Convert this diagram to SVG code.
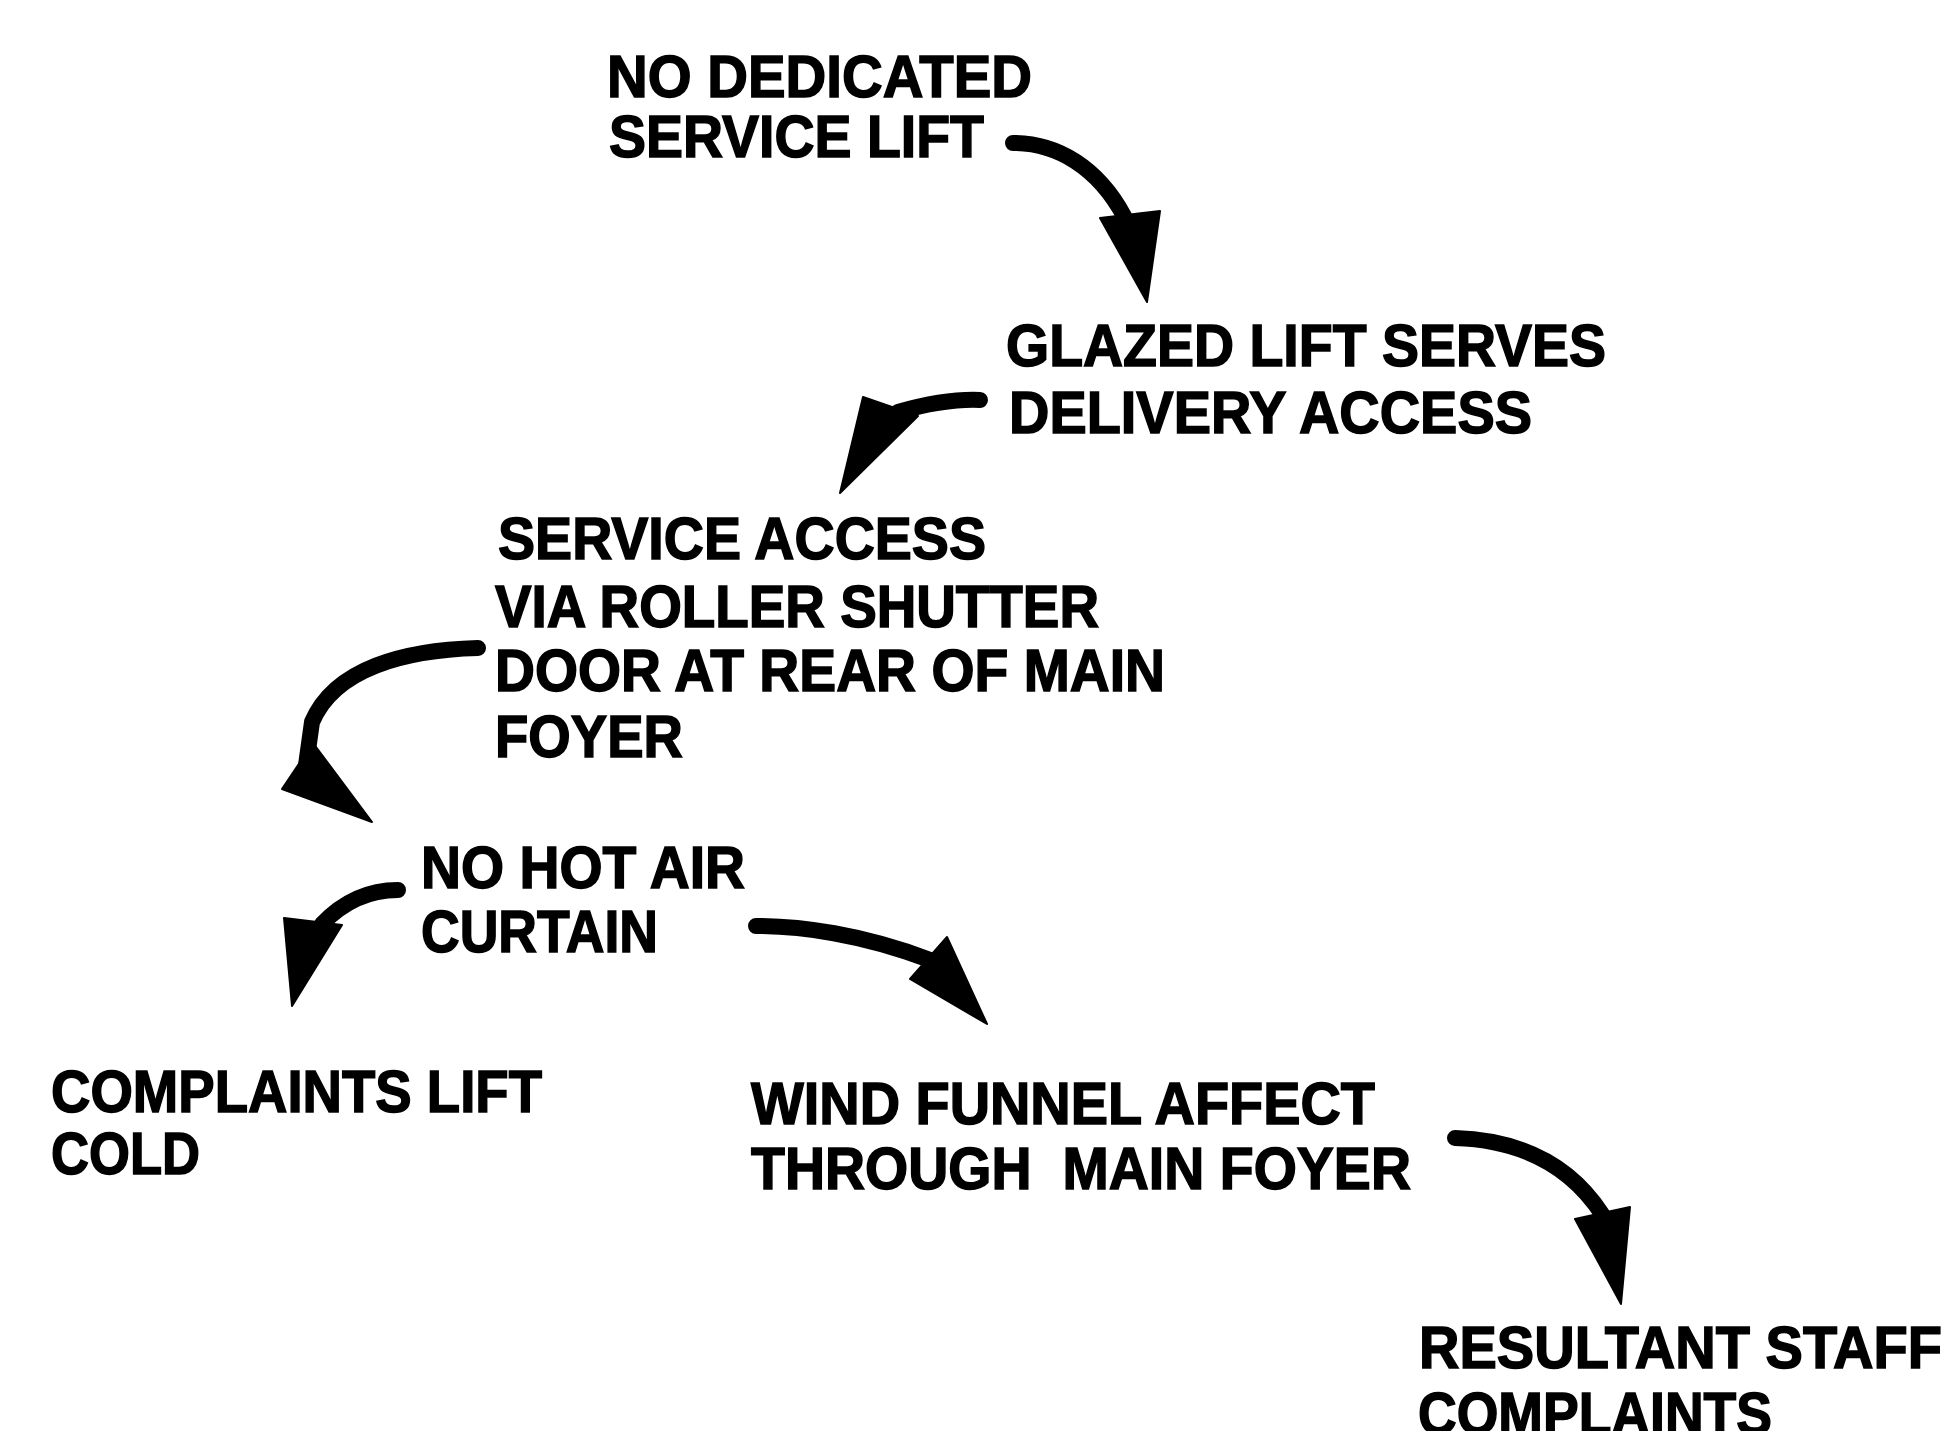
<svg xmlns="http://www.w3.org/2000/svg" width="1949" height="1431" viewBox="0 0 1949 1431">
  <style>
    .lbl { font-family: "Liberation Sans", Arial, sans-serif; font-weight: bold; font-size: 60px; fill: #000; stroke: #000; stroke-width: 1.5; white-space: pre; }
    .shaft { fill: none; stroke: #000; stroke-width: 16; stroke-linecap: round; stroke-linejoin: round; }
    .head { fill: #000; stroke: #000; stroke-width: 2; stroke-linejoin: round; }
  </style>
  <rect width="1949" height="1431" fill="#fff"/>

  <!-- cause/effect statements -->
  <g id="no-service-lift">
    <text class="lbl" x="607" y="97" textLength="425" lengthAdjust="spacingAndGlyphs">NO DEDICATED</text>
    <text class="lbl" x="609" y="157" textLength="375" lengthAdjust="spacingAndGlyphs">SERVICE LIFT</text>
  </g>
  <g id="glazed-lift">
    <text class="lbl" x="1006" y="366" textLength="600" lengthAdjust="spacingAndGlyphs">GLAZED LIFT SERVES</text>
    <text class="lbl" x="1009" y="433" textLength="523" lengthAdjust="spacingAndGlyphs">DELIVERY ACCESS</text>
  </g>
  <g id="service-access">
    <text class="lbl" x="498" y="559" textLength="488" lengthAdjust="spacingAndGlyphs">SERVICE ACCESS</text>
    <text class="lbl" x="495" y="627" textLength="604" lengthAdjust="spacingAndGlyphs">VIA ROLLER SHUTTER</text>
    <text class="lbl" x="495" y="691" textLength="670" lengthAdjust="spacingAndGlyphs">DOOR AT REAR OF MAIN</text>
    <text class="lbl" x="495" y="757" textLength="188" lengthAdjust="spacingAndGlyphs">FOYER</text>
  </g>
  <g id="no-air-curtain">
    <text class="lbl" x="421" y="888" textLength="324" lengthAdjust="spacingAndGlyphs">NO HOT AIR</text>
    <text class="lbl" x="421" y="952" textLength="237" lengthAdjust="spacingAndGlyphs">CURTAIN</text>
  </g>
  <g id="lift-cold">
    <text class="lbl" x="51" y="1112" textLength="491" lengthAdjust="spacingAndGlyphs">COMPLAINTS LIFT</text>
    <text class="lbl" x="51" y="1174" textLength="149" lengthAdjust="spacingAndGlyphs">COLD</text>
  </g>
  <g id="wind-funnel">
    <text class="lbl" x="751" y="1124" textLength="624" lengthAdjust="spacingAndGlyphs">WIND FUNNEL AFFECT</text>
    <text class="lbl" x="751" y="1189" textLength="660" lengthAdjust="spacingAndGlyphs">THROUGH  MAIN FOYER</text>
  </g>
  <g id="staff-complaints">
    <text class="lbl" x="1419" y="1368" textLength="523" lengthAdjust="spacingAndGlyphs">RESULTANT STAFF</text>
    <text class="lbl" x="1418" y="1434" textLength="354" lengthAdjust="spacingAndGlyphs">COMPLAINTS</text>
  </g>

  <!-- curved arrows -->
  <g id="connectors">
    <path class="shaft" d="M1013,143 C1058,143 1098,168 1124,216"/>
    <polygon class="head" points="1100,218 1160,211 1147,302"/>

    <path class="shaft" d="M980,400 C955,399 930,403 898,412"/>
    <polygon class="head" points="863,397 918,416 840,493"/>

    <path class="shaft" d="M478,648 C405,650 335,668 312,722 L306,765"/>
    <polygon class="head" points="282,789 372,822 313,743"/>

    <path class="shaft" d="M398,890 C370,890 345,900 322,924"/>
    <polygon class="head" points="284,918 342,925 292,1006"/>

    <path class="shaft" d="M756,926 C800,926 862,934 930,960"/>
    <polygon class="head" points="910,979 947,937 987,1024"/>

    <path class="shaft" d="M1455,1138 C1520,1140 1570,1165 1602,1214"/>
    <polygon class="head" points="1575,1219 1630,1207 1621,1304"/>
  </g>
</svg>
